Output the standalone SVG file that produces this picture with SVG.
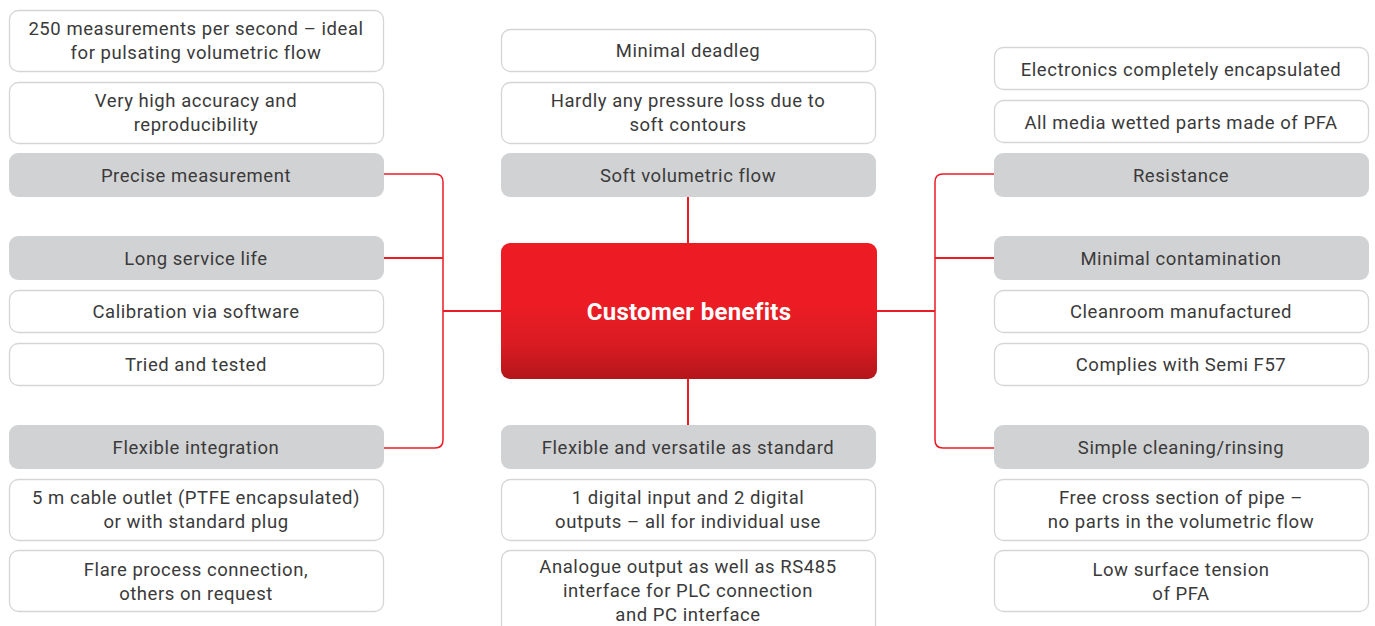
<svg xmlns="http://www.w3.org/2000/svg" width="1375" height="626" viewBox="0 0 1375 626">
<defs>
<linearGradient id="redg" x1="0" y1="0" x2="0" y2="1">
<stop offset="0" stop-color="#ed1c24"/>
<stop offset="0.45" stop-color="#ec1c24"/>
<stop offset="0.75" stop-color="#d91b22"/>
<stop offset="1" stop-color="#b3161b"/>
</linearGradient>
<style>
.w{fill:#ffffff;stroke:#d5d5d5;stroke-width:1.3}
.g{fill:#d1d2d4}
.t{font-family:Roboto,"Liberation Sans",sans-serif;font-size:18.5px;fill:#3a3a3a;text-anchor:middle;letter-spacing:0.55px}
.c{stroke:#ec1c24;fill:none}
</style>
</defs>
<rect width="1375" height="626" fill="#ffffff"/>
<g id="connectors">
<path class="c" stroke-width="1.5" d="M384 174 H435 Q443 174 443 182 V440 Q443 448 435 448 H384"/>
<path class="c" stroke-width="2" d="M384 258 H443 M443 311 H501"/>
<path class="c" stroke-width="1.5" d="M994 174 H943 Q935 174 935 182 V440 Q935 448 943 448 H994"/>
<path class="c" stroke-width="2" d="M994 258 H935 M935 311 H876"/>
<path class="c" stroke-width="2" d="M688 197 V243 M688 379 V425"/>
</g>
<g id="center">
<rect x="501" y="243" width="376" height="136" rx="9" fill="url(#redg)"/>
<text x="689" y="320" font-family="Roboto,'Liberation Sans',sans-serif" font-size="24" font-weight="bold" fill="#ffffff" text-anchor="middle" letter-spacing="0.3">Customer benefits</text>
</g>
<g id="l1"><rect class="w" x="9.5" y="10.5" width="374" height="61" rx="9"/><text class="t" x="196" y="35">250 measurements per second – ideal</text><text class="t" x="196" y="59">for pulsating volumetric flow</text></g>
<g id="l2"><rect class="w" x="9.5" y="82.5" width="374" height="61" rx="9"/><text class="t" x="196" y="107">Very high accuracy and</text><text class="t" x="196" y="131">reproducibility</text></g>
<g id="l3"><rect class="g" x="9" y="153" width="375" height="44" rx="9"/><text class="t" x="196" y="182">Precise measurement</text></g>
<g id="l4"><rect class="g" x="9" y="236" width="375" height="44" rx="9"/><text class="t" x="196" y="265">Long service life</text></g>
<g id="l5"><rect class="w" x="9.5" y="290.5" width="374" height="42" rx="9"/><text class="t" x="196" y="318">Calibration via software</text></g>
<g id="l6"><rect class="w" x="9.5" y="343.5" width="374" height="42" rx="9"/><text class="t" x="196" y="371">Tried and tested</text></g>
<g id="l7"><rect class="g" x="9" y="425" width="375" height="44" rx="9"/><text class="t" x="196" y="454">Flexible integration</text></g>
<g id="l8"><rect class="w" x="9.5" y="479.5" width="374" height="61" rx="9"/><text class="t" x="196" y="504">5 m cable outlet (PTFE encapsulated)</text><text class="t" x="196" y="528">or with standard plug</text></g>
<g id="l9"><rect class="w" x="9.5" y="550.5" width="374" height="61" rx="9"/><text class="t" x="196" y="576">Flare process connection,</text><text class="t" x="196" y="600">others on request</text></g>
<g id="c1"><rect class="w" x="501.5" y="29.5" width="374" height="42" rx="9"/><text class="t" x="688" y="57">Minimal deadleg</text></g>
<g id="c2"><rect class="w" x="501.5" y="82.5" width="374" height="61" rx="9"/><text class="t" x="688" y="107">Hardly any pressure loss due to</text><text class="t" x="688" y="131">soft contours</text></g>
<g id="c3"><rect class="g" x="501" y="153" width="375" height="44" rx="9"/><text class="t" x="688" y="182">Soft volumetric flow</text></g>
<g id="c4"><rect class="g" x="501" y="425" width="375" height="44" rx="9"/><text class="t" x="688" y="454">Flexible and versatile as standard</text></g>
<g id="c5"><rect class="w" x="501.5" y="479.5" width="374" height="61" rx="9"/><text class="t" x="688" y="504">1 digital input and 2 digital</text><text class="t" x="688" y="528">outputs – all for individual use</text></g>
<g id="c6"><rect class="w" x="501.5" y="550.5" width="374" height="90" rx="9"/><text class="t" x="688" y="573">Analogue output as well as RS485</text><text class="t" x="688" y="597">interface for PLC connection</text><text class="t" x="688" y="621">and PC interface</text></g>
<g id="r1"><rect class="w" x="994.5" y="47.5" width="374" height="42" rx="9"/><text class="t" x="1181" y="76">Electronics completely encapsulated</text></g>
<g id="r2"><rect class="w" x="994.5" y="100.5" width="374" height="42" rx="9"/><text class="t" x="1181" y="129">All media wetted parts made of PFA</text></g>
<g id="r3"><rect class="g" x="994" y="153" width="375" height="44" rx="9"/><text class="t" x="1181" y="182">Resistance</text></g>
<g id="r4"><rect class="g" x="994" y="236" width="375" height="44" rx="9"/><text class="t" x="1181" y="265">Minimal contamination</text></g>
<g id="r5"><rect class="w" x="994.5" y="290.5" width="374" height="42" rx="9"/><text class="t" x="1181" y="318">Cleanroom manufactured</text></g>
<g id="r6"><rect class="w" x="994.5" y="343.5" width="374" height="42" rx="9"/><text class="t" x="1181" y="371">Complies with Semi F57</text></g>
<g id="r7"><rect class="g" x="994" y="425" width="375" height="44" rx="9"/><text class="t" x="1181" y="454">Simple cleaning/rinsing</text></g>
<g id="r8"><rect class="w" x="994.5" y="479.5" width="374" height="61" rx="9"/><text class="t" x="1181" y="504">Free cross section of pipe –</text><text class="t" x="1181" y="528">no parts in the volumetric flow</text></g>
<g id="r9"><rect class="w" x="994.5" y="550.5" width="374" height="61" rx="9"/><text class="t" x="1181" y="576">Low surface tension</text><text class="t" x="1181" y="600">of PFA</text></g>
</svg>
